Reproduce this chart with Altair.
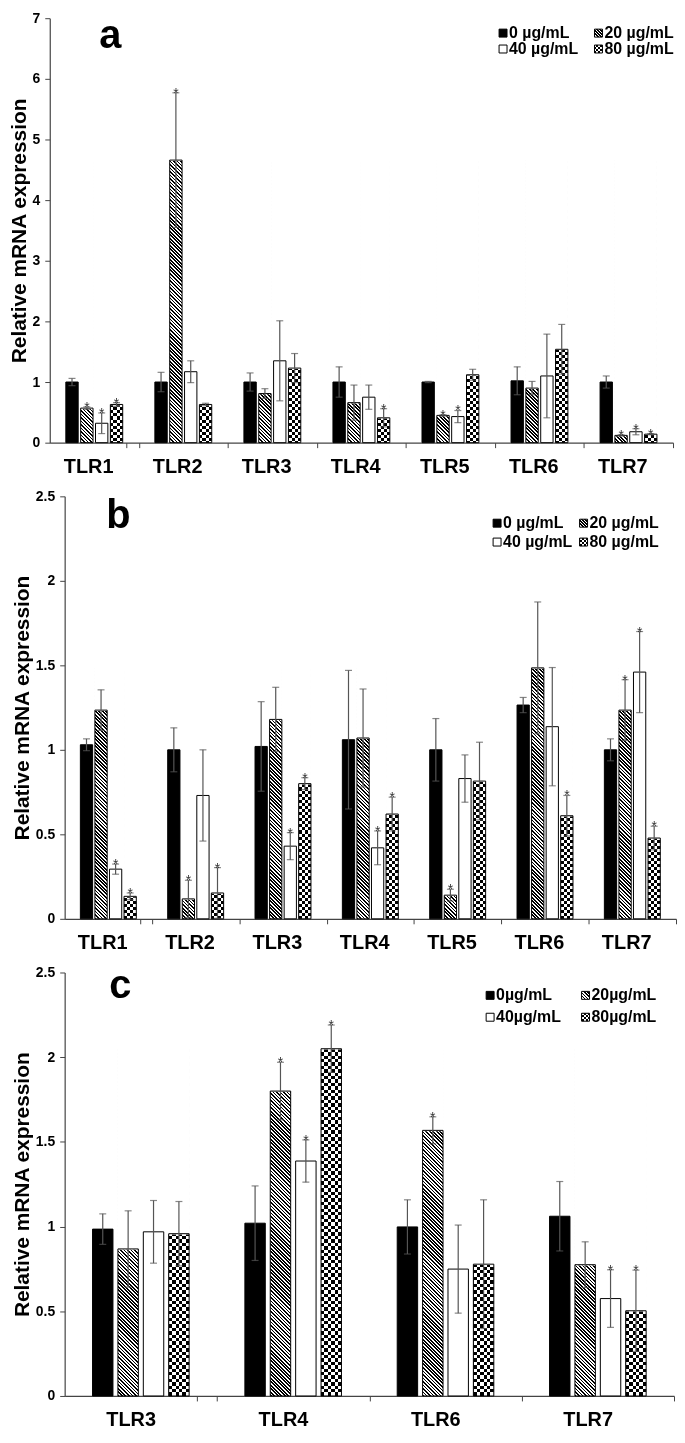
import math
import altair as alt
import pandas as pd

FONT = "Liberation Sans, Arial, Helvetica, sans-serif"
TITLE = "Relative mRNA expression"

# ---------------- data ----------------
CONC_AB = ["0 µg/mL", "20 µg/mL", "40 µg/mL", "80 µg/mL"]
CONC_C = ["0µg/mL", "20µg/mL", "40µg/mL", "80µg/mL"]

genes_a = ["TLR1", "TLR2", "TLR3", "TLR4", "TLR5", "TLR6", "TLR7"]
a_v0 = [1.00, 1.00, 1.00, 1.00, 1.00, 1.02, 1.00]
a_e0 = [0.06, 0.16, 0.15, 0.25, 0.01, 0.23, 0.10]
a_v20 = [0.57, 4.66, 0.81, 0.66, 0.45, 0.90, 0.12]
a_e20 = [0.02, 1.11, 0.08, 0.29, 0.01, 0.11, 0.01]
a_v40 = [0.32, 1.17, 1.35, 0.75, 0.43, 1.10, 0.18]
a_e40 = [0.17, 0.18, 0.66, 0.20, 0.10, 0.69, 0.05]
a_v80 = [0.63, 0.63, 1.23, 0.41, 1.12, 1.54, 0.14]
a_e80 = [0.03, 0.02, 0.24, 0.15, 0.09, 0.41, 0.01]
a_s0 = [0, 0, 0, 0, 0, 0, 0]
a_s20 = [1, 1, 0, 0, 1, 0, 1]
a_s40 = [1, 0, 0, 0, 1, 0, 1]
a_s80 = [1, 0, 0, 1, 0, 0, 1]
a_ticks = [0, 1, 2, 3, 4, 5, 6, 7]

genes_b = ["TLR1", "TLR2", "TLR3", "TLR4", "TLR5", "TLR6", "TLR7"]
b_v0 = [1.03, 1.00, 1.02, 1.06, 1.00, 1.265, 1.00]
b_e0 = [0.035, 0.13, 0.265, 0.41, 0.185, 0.045, 0.065]
b_v20 = [1.235, 0.118, 1.18, 1.07, 0.14, 1.485, 1.235]
b_e20 = [0.12, 0.11, 0.19, 0.29, 0.035, 0.39, 0.18]
b_v40 = [0.294, 0.73, 0.43, 0.42, 0.83, 1.137, 1.46]
b_e40 = [0.03, 0.27, 0.08, 0.10, 0.14, 0.35, 0.24]
b_v80 = [0.133, 0.153, 0.80, 0.62, 0.815, 0.61, 0.478]
b_e80 = [0.02, 0.15, 0.035, 0.10, 0.23, 0.12, 0.07]
b_s0 = [0, 0, 0, 0, 0, 0, 0]
b_s20 = [0, 1, 0, 0, 1, 0, 1]
b_s40 = [1, 0, 1, 1, 0, 0, 1]
b_s80 = [1, 1, 1, 1, 0, 1, 1]
bc_ticks = [0, 0.5, 1, 1.5, 2, 2.5]

genes_c = ["TLR3", "TLR4", "TLR6", "TLR7"]
c_v0 = [0.985, 1.02, 0.998, 1.061]
c_e0 = [0.09, 0.22, 0.16, 0.205]
c_v20 = [0.868, 1.80, 1.568, 0.775]
c_e20 = [0.225, 0.17, 0.08, 0.135]
c_v40 = [0.969, 1.387, 0.749, 0.575]
c_e40 = [0.185, 0.125, 0.26, 0.17]
c_v80 = [0.958, 2.05, 0.778, 0.503]
c_e80 = [0.19, 0.14, 0.38, 0.24]
c_s0 = [0, 0, 0, 0]
c_s20 = [0, 1, 1, 0]
c_s40 = [0, 1, 0, 1]
c_s80 = [0, 1, 0, 1]


# ---------------- pattern helpers (fill styles) ----------------
def stripe_stops(n_periods, c_on, c_off, frac):
    stops = []
    i = 0
    while True:
        t0 = i / n_periods
        if t0 >= 1:
            break
        t1 = min((i + frac) / n_periods, 1.0)
        t2 = min((i + 1) / n_periods, 1.0)
        stops += [(t0, c_on), (t1, c_on), (t1, c_off), (t2, c_off)]
        i += 1
    return [{"offset": round(o, 5), "color": c} for o, c in stops]


def hatch_gradient(w, h, period=2.5, frac=0.5):
    k = h / w
    a = (1 + k) / (1 + k * k)
    b = -k * a
    n = (w + h) / math.sqrt(2) / period
    return {"gradient": "linear", "x1": 0, "y1": 1, "x2": round(a, 6),
            "y2": round(1 + b, 6), "stops": stripe_stops(n, "black", "white", frac)}


def vstripes(w, cell):
    return {"gradient": "linear", "x1": 0, "y1": 0, "x2": 1, "y2": 0,
            "stops": stripe_stops(w / (2 * cell), "black", "white", 0.5)}


def hstripes(h, cell):
    return {"gradient": "linear", "x1": 0, "y1": 0, "x2": 0, "y2": 1,
            "stops": stripe_stops(h / (2 * cell), "white", "black", 0.5)}


DUMMY = pd.DataFrame({"d": [0]})


def legend_layers(concs, col_x, row_y, fs):
    sw = 8
    hatch_sw = hatch_gradient(sw, sw, period=2.2)
    layers = []
    pos = [(col_x[0], row_y[0]), (col_x[1], row_y[0]), (col_x[0], row_y[1]), (col_x[1], row_y[1])]
    for i, (px, py) in enumerate(pos):
        enc = dict(x=alt.value(px), x2=alt.value(px + sw), y=alt.value(py - sw / 2), y2=alt.value(py + sw / 2))
        if i == 0:
            layers.append(alt.Chart(DUMMY).mark_rect(fill="black", stroke="black", strokeWidth=1).encode(**enc))
        elif i == 1:
            layers.append(alt.Chart(DUMMY).mark_rect(fill=hatch_sw, stroke="black", strokeWidth=1).encode(**enc))
        elif i == 2:
            layers.append(alt.Chart(DUMMY).mark_rect(fill="white", stroke="black", strokeWidth=1).encode(**enc))
        else:
            layers.append(alt.Chart(DUMMY).mark_rect(fill=vstripes(sw, 2), strokeWidth=0).encode(**enc))
            layers.append(alt.Chart(DUMMY).mark_rect(fill=hstripes(sw, 2), strokeWidth=0, blend="difference").encode(**enc))
            layers.append(alt.Chart(DUMMY).mark_rect(fill="transparent", stroke="black", strokeWidth=1).encode(**enc))
        layers.append(
            alt.Chart(DUMMY).mark_text(text=concs[i], align="left", baseline="middle", font=FONT,
                                       fontSize=fs, fontWeight="bold", color="black")
            .encode(x=alt.value(px + sw + 2), y=alt.value(py))
        )
    return layers


def make_panel(genes, vals, errs, stars, concs, letter, ymax, ticks, x0, width, height, gap,
               col_x, row_y, letter_xy, letter_size=40, leg_fs=16):
    rows = []
    for ci, conc in enumerate(concs):
        for gi, g in enumerate(genes):
            rows.append({"gene": g, "slot": f"{g}|{conc}", "conc": conc, "value": vals[ci][gi],
                         "err": errs[ci][gi], "star": "*" if stars[ci][gi] else ""})
    df = pd.DataFrame(rows)
    vmax = float(df["value"].max())

    # category slots: spacer, 4 concentrations, spacer
    slots = []
    for g in genes:
        slots += [f"{g}|L"] + [f"{g}|{c}" for c in concs] + [f"{g}|R"]
    cat_w = width / len(genes)
    step = cat_w / 6
    pi = gap / step
    bw = step * (1 - pi)
    hc = height * vmax / ymax
    n_cells = max(2, round(bw / 3.25))
    cell = bw / n_cells

    xaxis = alt.Axis(title=None, labelAngle=0, values=[f"{g}|R" for g in genes], bandPosition=1,
                     tickExtra=True, tickOffset=gap / 2, labelOffset=-cat_w / 2,
                     labelExpr="isString(datum.value) && length(split(datum.value, '|')) > 1 ? split(datum.value, '|')[0] : ''",
                     labelFont=FONT, labelFontSize=20,
                     labelFontWeight="bold", labelColor="black", domainColor="#444", tickColor="#444",
                     tickSize=5, labelPadding=9, domainWidth=1.2)
    yaxis = alt.Axis(title=TITLE, grid=False, values=ticks, format="~g", labelFont=FONT, labelFontSize=14,
                     labelFontWeight="bold", labelColor="black", titleFont=FONT, titleFontSize=21,
                     titleFontWeight="bold", titleColor="black", domainColor="#444", tickColor="#444",
                     tickSize=5, labelPadding=5, titlePadding=3, domainWidth=1.2, offset=-x0)
    X = alt.X("slot:N", scale=alt.Scale(domain=slots, range=[x0, x0 + width],
                                        paddingInner=pi, paddingOuter=pi / 2), axis=xaxis)

    def Y(f):
        return alt.Y(f"{f}:Q", scale=alt.Scale(domain=[0, ymax], nice=False, zero=True), axis=yaxis)

    base = alt.Chart(df).transform_calculate(
        zero="0", top=f"{vmax}", lo="max(0, datum.value - datum.err)", hi="datum.value + datum.err"
    )

    hatch_col = base.transform_filter(alt.datum.conc == concs[1]).mark_bar(
        fill=hatch_gradient(bw, hc), strokeWidth=0).encode(x=X, y=Y("zero"), y2="top:Q")
    chk_a = base.transform_filter(alt.datum.conc == concs[3]).mark_bar(
        fill=vstripes(bw, cell), strokeWidth=0).encode(x=X, y=Y("zero"), y2="top:Q")
    chk_b = base.transform_filter(alt.datum.conc == concs[3]).mark_bar(
        fill=hstripes(hc, cell), strokeWidth=0, blend="difference").encode(x=X, y=Y("zero"), y2="top:Q")
    cover = base.transform_filter(
        (alt.datum.conc == concs[1]) | (alt.datum.conc == concs[3])
    ).mark_bar(fill="white", stroke="white", strokeWidth=1.6).encode(x=X, y=Y("value"), y2="top:Q")
    outline = base.mark_bar(stroke="black", strokeWidth=1).encode(
        x=X, y=Y("value"),
        fill=alt.Fill("conc:N", scale=alt.Scale(domain=concs, range=["black", "transparent", "white", "transparent"]),
                      legend=None),
    )
    err_rule = base.mark_rule(color="#555", strokeWidth=1.2).encode(x=X, y=Y("lo"), y2="hi:Q")
    cap_lo = base.mark_tick(color="#555", size=7, thickness=1.2).encode(x=X, y=Y("lo"))
    cap_hi = base.mark_tick(color="#555", size=7, thickness=1.2).encode(x=X, y=Y("hi"))
    star = base.transform_filter(alt.datum.star != "").mark_text(
        font=FONT, fontSize=14, color="#333", baseline="alphabetic", dy=5).encode(
        x=X, y=Y("hi"), text="star:N")
    letter_t = alt.Chart(DUMMY).mark_text(text=letter, font=FONT, fontSize=letter_size, fontWeight="bold",
                                          align="center", baseline="alphabetic", color="black").encode(
        x=alt.value(letter_xy[0]), y=alt.value(letter_xy[1]))

    layers = [hatch_col, chk_a, chk_b, cover, outline, err_rule, cap_lo, cap_hi, star, letter_t]
    layers += legend_layers(concs, col_x, row_y, leg_fs)
    return alt.layer(*layers).properties(width=x0 + width, height=height)


pa = make_panel(genes_a, [a_v0, a_v20, a_v40, a_v80], [a_e0, a_e20, a_e40, a_e80],
                [a_s0, a_s20, a_s40, a_s80], CONC_AB, "a", 7, a_ticks, 0, 627, 427, 2.5,
                col_x=(452, 548), row_y=(15, 31), letter_xy=(61, 30))
pb = make_panel(genes_b, [b_v0, b_v20, b_v40, b_v80], [b_e0, b_e20, b_e40, b_e80],
                [b_s0, b_s20, b_s40, b_s80], CONC_AB, "b", 2.5, bc_ticks, 15, 615, 425, 2.3,
                col_x=(446, 533), row_y=(27, 46), letter_xy=(69, 32))
pc = make_panel(genes_c, [c_v0, c_v20, c_v40, c_v80], [c_e0, c_e20, c_e40, c_e80],
                [c_s0, c_s20, c_s40, c_s80], CONC_C, "c", 2.5, bc_ticks, 15, 613, 426, 5.0,
                col_x=(439, 535), row_y=(23, 45), letter_xy=(71, 26))

chart = alt.vconcat(pa, pb, pc, spacing=13).properties(
    padding={"top": -1, "left": 0, "right": 0, "bottom": 0}, background="white"
).configure_view(stroke=None)

chart.save("out.html", embed_options={"renderer": "svg", "actions": False})
